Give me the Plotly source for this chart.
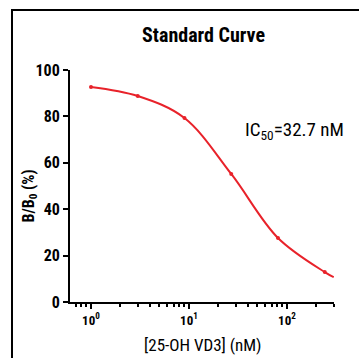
import plotly.graph_objects as go

# Data
conc_nM = [1, 3, 9, 27, 81, 243]
b_b0_pct = [92.7, 88.8, 79.3, 55.2, 27.6, 12.9]
# fitted curve trace (through points, extended to axis end)
curve_x = [1, 3, 9, 27, 81, 243, 300]
curve_y = [92.7, 88.8, 79.3, 55.2, 27.6, 12.9, 10.7]
y_ticks = [0, 20, 40, 60, 80, 100]
x_ticks = [1, 10, 100]
x_tick_labels = ["10<sup>0</sup>", "10<sup>1</sup>", "10<sup>2</sup>"]

FONT = "Liberation Sans Narrow, Arial Narrow, Roboto Condensed, Liberation Sans, sans-serif"
RED = "#e8222a"

fig = go.Figure()
fig.add_trace(go.Scatter(x=curve_x, y=curve_y, mode="lines",
                         line=dict(color=RED, width=2, shape="spline", smoothing=1.0),
                         hoverinfo="skip", showlegend=False))
fig.add_trace(go.Scatter(x=conc_nM, y=b_b0_pct, mode="markers",
                         marker=dict(color=RED, size=4), showlegend=False))

fig.update_layout(
    width=359, height=358,
    margin=dict(l=70, r=25, t=70, b=56, autoexpand=False),
    paper_bgcolor="white", plot_bgcolor="white",
    font=dict(family=FONT, color="black"),
    title=dict(text="<b>Standard Curve</b>", x=0.567, xanchor="center",
               y=0.902, yanchor="middle", font=dict(size=20, family=FONT)),
    showlegend=False,
)
fig.update_xaxes(
    type="log", range=[-0.214, 2.48], automargin=False,
    showline=True, linecolor="black", linewidth=2,
    showgrid=False, zeroline=False,
    ticks="outside", ticklen=5, tickwidth=2, tickcolor="black",
    tickvals=x_ticks, ticktext=[f"<b>{t}</b>" for t in x_tick_labels],
    tickfont=dict(size=13, family=FONT),
    minor=dict(ticks="outside", ticklen=3, tickwidth=1.5, tickcolor="black", dtick="D1", showgrid=False),
)
fig.update_yaxes(
    range=[0, 100], automargin=False,
    showline=True, linecolor="black", linewidth=2,
    showgrid=False, zeroline=False,
    ticks="outside", ticklen=5, tickwidth=2, tickcolor="black",
    tickvals=y_ticks, ticktext=[f"<b>{v}</b>" for v in y_ticks],
    tickfont=dict(size=16, family=FONT),
)
# axis titles as annotations
fig.add_annotation(text="[25-OH VD3] (nM)", xref="paper", yref="paper",
                   x=0.502, y=-0.185, xanchor="center", yanchor="middle",
                   showarrow=False, font=dict(size=17, family=FONT))
fig.add_annotation(text="<b>B/B<sub>0</sub> (%)</b>", xref="paper", yref="paper",
                   x=-0.155, y=0.455, xanchor="center", yanchor="middle", textangle=-90,
                   showarrow=False, font=dict(size=16, family=FONT))
fig.add_annotation(text="IC<sub>50</sub>=32.7 nM", xref="paper", yref="paper",
                   x=0.655, y=0.741, xanchor="left", yanchor="middle",
                   showarrow=False, font=dict(size=19, family=FONT))
# frame (top and left edges visible; right/bottom off-canvas)
fig.add_shape(type="rect", xref="paper", yref="paper", x0=-0.2197, x1=1.2, y0=-0.3, y1=1.2586,
              line=dict(color="black", width=2), fillcolor="rgba(0,0,0,0)", layer="above")

fig.write_html("out.html", config={"displayModeBar": False},
               post_script="document.body.style.margin='0';document.body.style.overflow='hidden';")
